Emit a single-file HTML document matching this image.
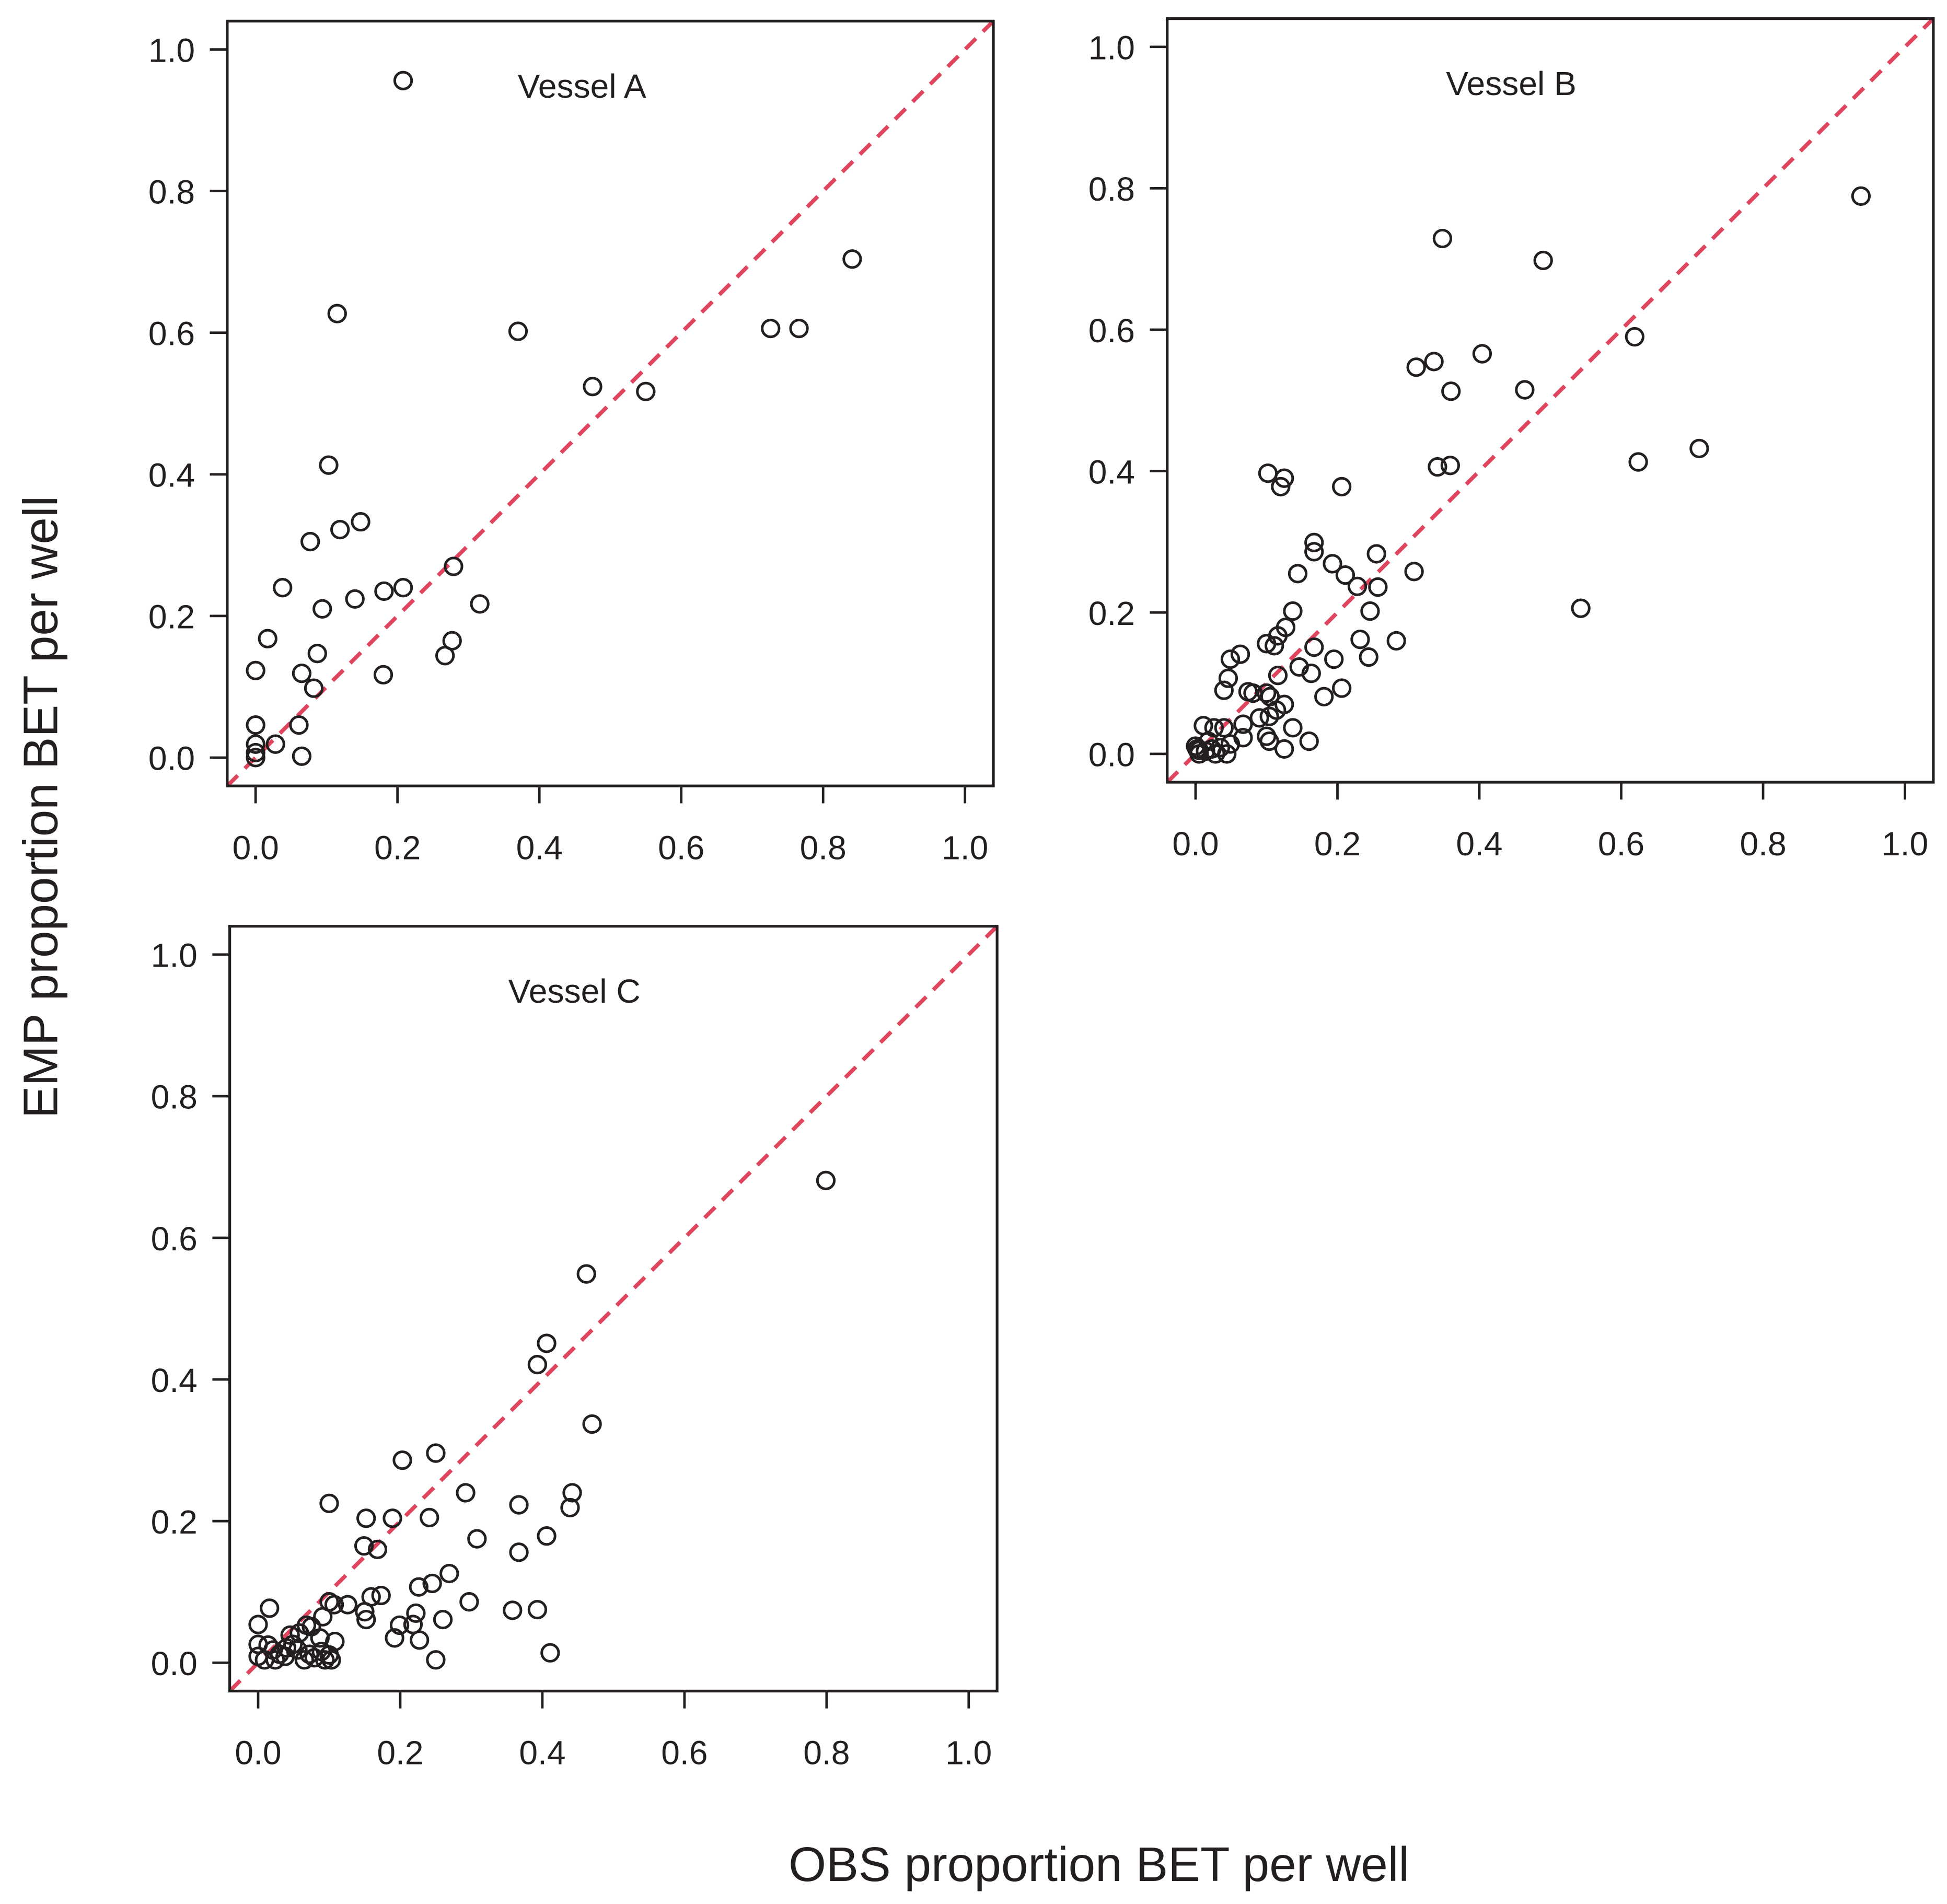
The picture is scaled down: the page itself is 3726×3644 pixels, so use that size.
<!DOCTYPE html>
<html><head><meta charset="utf-8"><style>
html,body{margin:0;padding:0;background:#fff;}
svg{display:block;}
text{font-family:"Liberation Sans",sans-serif;fill:#231f20;}
</style></head><body>
<svg id="chart" width="3726" height="3644" viewBox="0 0 1568 1533.5" xmlns="http://www.w3.org/2000/svg">
<text x="46" y="650" font-size="39" text-anchor="middle" transform="rotate(-90 46 650)">EMP proportion BET per well</text>
<text x="885" y="1515" font-size="39" text-anchor="middle">OBS proportion BET per well</text>
</svg>
<script>
const tickValues = [0, 0.2, 0.4, 0.6, 0.8, 1.0];
const tickLabels = ["0.0", "0.2", "0.4", "0.6", "0.8", "1.0"];
const panelTitles = ["Vessel A", "Vessel B", "Vessel C"];
const vesselAx = [0.208,0.115,0.37,0.841,0.726,0.766,0.475,0.55,0.103,0.077,0.119,0.148,0.038,0.14,0.181,0.208,0.279,0.094,0.316,0.017,0.277,0.267,0,0.087,0.065,0.18,0.082,0,0.061,0,0.028,0,0,0.065];
const vesselAy = [0.956,0.627,0.602,0.704,0.606,0.606,0.524,0.517,0.413,0.305,0.322,0.333,0.24,0.224,0.235,0.24,0.27,0.21,0.217,0.168,0.165,0.144,0.123,0.147,0.119,0.117,0.098,0.046,0.046,0.019,0.019,0.007,0,0.002];
const vesselBx = [0.938,0.348,0.49,0.619,0.404,0.311,0.336,0.36,0.464,0.341,0.359,0.624,0.71,0.543,0.102,0.125,0.12,0.206,0.167,0.167,0.255,0.193,0.211,0.144,0.308,0.228,0.257,0.246,0.137,0.127,0.116,0.111,0.1,0.167,0.232,0.283,0.063,0.049,0.195,0.244,0.146,0.116,0.163,0.046,0.04,0.206,0.181,0.074,0.081,0.1,0.105,0.125,0.114,0.104,0.09,0.067,0.137,0.011,0.026,0.04,0.1,0.104,0.16,0.125,0.067,0,0.005,0.014,0.023,0.035,0.044,0.028,0.005,0.002,0.049,0.018];
const vesselBy = [0.789,0.729,0.698,0.59,0.566,0.547,0.555,0.513,0.515,0.406,0.408,0.413,0.432,0.206,0.397,0.39,0.378,0.378,0.299,0.286,0.283,0.269,0.253,0.255,0.258,0.237,0.236,0.202,0.202,0.179,0.167,0.153,0.156,0.151,0.162,0.16,0.141,0.134,0.134,0.137,0.123,0.111,0.114,0.107,0.09,0.093,0.081,0.088,0.086,0.086,0.081,0.07,0.062,0.053,0.051,0.042,0.037,0.04,0.037,0.037,0.025,0.018,0.018,0.007,0.023,0.011,0.005,0.004,0.007,0.009,0,0,0,0.007,0.014,0.018];
const vesselCx = [0.799,0.462,0.406,0.393,0.47,0.25,0.203,0.292,0.442,0.439,0.367,0.1,0.152,0.189,0.241,0.308,0.406,0.149,0.168,0.367,0.269,0.245,0.226,0.173,0.159,0.297,0.1,0.126,0.107,0.016,0.222,0.218,0.199,0.358,0.393,0.15,0.152,0.26,0.091,0.192,0.227,0,0.068,0.075,0.045,0.058,0.087,0.108,0.411,0.25,0,0.014,0.021,0.03,0,0.009,0.038,0.056,0.072,0.079,0.094,0.103,0.065,0.024,0.04,0.049,0.089,0.1];
const vesselCy = [0.681,0.549,0.451,0.421,0.337,0.296,0.286,0.24,0.24,0.219,0.223,0.225,0.204,0.204,0.205,0.175,0.179,0.165,0.16,0.156,0.126,0.112,0.107,0.095,0.093,0.086,0.086,0.082,0.082,0.077,0.07,0.054,0.053,0.074,0.075,0.072,0.061,0.061,0.065,0.035,0.032,0.054,0.053,0.051,0.039,0.042,0.035,0.03,0.014,0.004,0.026,0.025,0.018,0.012,0.009,0.004,0.009,0.018,0.012,0.007,0.004,0.004,0.004,0.004,0.021,0.026,0.016,0.011];
const panels = [
  {xs: vesselAx, ys: vesselAy, box: [183, 17, 800, 633], name: "vessel-a", tx: 0.46},
  {xs: vesselBx, ys: vesselBy, box: [940, 15, 1557, 630], name: "vessel-b", tx: 0.445},
  {xs: vesselCx, ys: vesselCy, box: [185, 746, 803, 1362], name: "vessel-c", tx: 0.445}
];
const NS = "http://www.w3.org/2000/svg";
const svg = document.getElementById("chart");
function mk(tag, attrs, parent){
  const e = document.createElementNS(NS, tag);
  for (const k in attrs) e.setAttribute(k, attrs[k]);
  parent.appendChild(e);
  return e;
}
const dMin = -0.04, dMax = 1.04;
panels.forEach((p, pi) => {
  const [x0, y0, x1, y1] = p.box;
  const sx = v => x0 + (v - dMin) / (dMax - dMin) * (x1 - x0);
  const sy = v => y1 - (v - dMin) / (dMax - dMin) * (y1 - y0);
  const g = mk("g", {}, svg);
  
  
  const clipId = "clip" + pi;
  const cp = mk("clipPath", {id: clipId}, g);
  mk("rect", {x: x0, y: y0, width: x1 - x0, height: y1 - y0}, cp);
  const ref = mk("line", {x1: sx(dMin), y1: sy(dMin), x2: sx(dMax), y2: sy(dMax), stroke: "#e0455e", "stroke-width": 3.2, "stroke-dasharray": "12 8", "clip-path": "url(#" + clipId + ")"}, g);
  
  
  const frame = mk("rect", {x: x0, y: y0, width: x1 - x0, height: y1 - y0, fill: "none", stroke: "#231f20", "stroke-width": 2.2}, g);
  
  
  tickValues.forEach((v, i) => {
    const yt = mk("line", {x1: x0 - 14, x2: x0, y1: sy(v), y2: sy(v), stroke: "#231f20", "stroke-width": 2}, g);
    
    
    const yl = mk("text", {x: x0 - 26, y: sy(v) + 10, "font-size": 27, "text-anchor": "end"}, g);
    yl.textContent = tickLabels[i];
    
    
    const xt = mk("line", {x1: sx(v), x2: sx(v), y1: y1, y2: y1 + 14, stroke: "#231f20", "stroke-width": 2}, g);
    
    
    const xl = mk("text", {x: sx(v), y: y1 + 59, "font-size": 27, "text-anchor": "middle"}, g);
    xl.textContent = tickLabels[i];
    
    
  });
  const t = mk("text", {x: sx(p.tx), y: sy(0.932), "font-size": 27, "text-anchor": "middle"}, g);
  t.textContent = panelTitles[pi];
  
  
  p.xs.forEach((xv, i) => {
    const c = mk("circle", {cx: sx(xv), cy: sy(p.ys[i]), r: 6.8, fill: "none", stroke: "#231f20", "stroke-width": 2.1}, g);
    
    
  });
});
</script>
</body></html>
